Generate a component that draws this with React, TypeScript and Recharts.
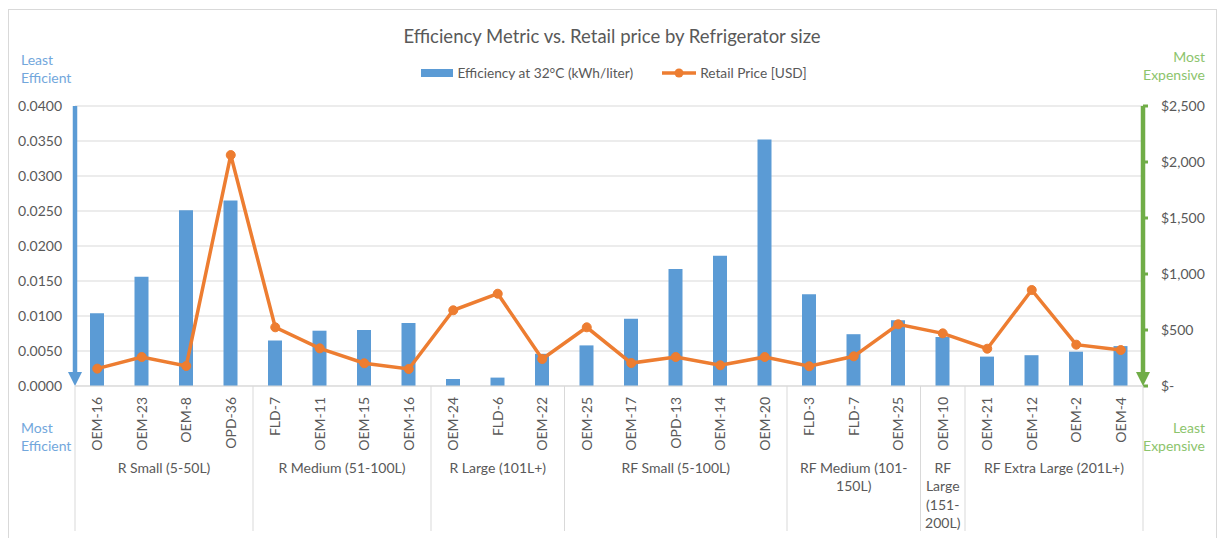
import React from 'react';
import { ComposedChart, Bar, Line, XAxis, YAxis, CartesianGrid, ReferenceLine } from 'recharts';

const categories = ['OEM-16', 'OEM-23', 'OEM-8', 'OPD-36', 'FLD-7', 'OEM-11', 'OEM-15', 'OEM-16', 'OEM-24', 'FLD-6', 'OEM-22', 'OEM-25', 'OEM-17', 'OPD-13', 'OEM-14', 'OEM-20', 'FLD-3', 'FLD-7', 'OEM-25', 'OEM-10', 'OEM-21', 'OEM-12', 'OEM-2', 'OEM-4'];
const efficiency = [0.0104, 0.0156, 0.0251, 0.0265, 0.0065, 0.0079, 0.0080, 0.0090, 0.0010, 0.0012, 0.0046, 0.0058, 0.0096, 0.0167, 0.0186, 0.0352, 0.0131, 0.0074, 0.0094, 0.0070, 0.0042, 0.0044, 0.0049, 0.0057];
const retailPrice = [155, 259, 179, 2062, 524, 336, 203, 152, 676, 824, 241, 524, 205, 259, 185, 259, 176, 265, 551, 470, 333, 857, 369, 321];
const groupLabels = [
  ['R Small (5-50L)'],
  ['R Medium (51-100L)'],
  ['R Large (101L+)'],
  ['RF Small (5-100L)'],
  ['RF Medium (101-', '150L)'],
  ['RF', 'Large', '(151-', '200L)'],
  ['RF Extra Large (201L+)'],
];
const groupSizes = [4, 4, 3, 5, 3, 1, 4];
const leftTicks = [0, 0.005, 0.01, 0.015, 0.02, 0.025, 0.03, 0.035, 0.04];
const rightTicks = [0, 500, 1000, 1500, 2000, 2500];

const data = categories.map((name, i) => ({ name, efficiency: efficiency[i], price: retailPrice[i] }));

const boundaries = groupSizes.reduce((acc: number[], s) => [...acc, acc[acc.length - 1] + s], [0]);
const centers = groupSizes.map((s, i) => boundaries[i] + s / 2);
const groupTicks = [...boundaries, ...centers].sort((a, b) => a - b);

const FONT = "Lato, 'Open Sans', sans-serif";
const TEXT = '#595959';
const GRID = '#D9D9D9';
const BLUE = '#5B9BD5';
const ORANGE = '#ED7D31';
const GREEN = '#70AD47';
const BLUE_TXT = '#72A7DC';
const GREEN_TXT = '#8CC46C';

const CatTick = (props: any) => {
  const { x, y, payload } = props;
  const ty = y + 11;
  return (
    <text x={x} y={ty} transform={`rotate(-90 ${x} ${ty})`} textAnchor="end" dy="0.35em" fill={TEXT} fontSize={14} fontFamily={FONT}>
      {payload.value}
    </text>
  );
};

const GroupTick = (props: any) => {
  const { x, y, payload } = props;
  const v = payload.value;
  if (boundaries.indexOf(v) >= 0) {
    return <line x1={x} x2={x} y1={y - 60} y2={y + 85} stroke={GRID} strokeWidth={1} />;
  }
  const gi = centers.indexOf(v);
  const lines = groupLabels[gi] || [];
  return (
    <text x={x} y={y + 27} textAnchor="middle" fill={TEXT} fontSize={14} fontFamily={FONT}>
      {lines.map((l, k) => (
        <tspan key={k} x={x} dy={k === 0 ? 0 : 18.3}>{l}</tspan>
      ))}
    </text>
  );
};

const arrowShape = (color: string) => (props: any) => {
  const { x1, y1, y2 } = props;
  const top = Math.min(y1, y2);
  const bottom = Math.max(y1, y2);
  const x = x1;
  return (
    <g>
      <line x1={x} x2={x} y1={top} y2={bottom - 12} stroke={color} strokeWidth={4.5} />
      <polygon points={`${x - 7},${bottom - 14} ${x + 7},${bottom - 14} ${x},${bottom}`} fill={color} />
    </g>
  );
};

const sideText: React.CSSProperties = { position: 'absolute', fontFamily: FONT, fontSize: 14, lineHeight: '18px' };

export default function App() {
  return (
    <div style={{ position: 'absolute', left: 0, top: 0, width: 1219, height: 538, overflow: 'hidden', background: '#fff' }}>
      <div style={{ position: 'absolute', left: 8, top: 9, width: 1209, height: 560, border: `1px solid ${GRID}`, boxSizing: 'border-box' }} />
      <div style={{ position: 'absolute', left: 8, width: 1208, top: 24, textAlign: 'center', fontFamily: FONT, fontSize: 18.5, color: TEXT, lineHeight: '24px' }}>
        Efficiency Metric vs. Retail price by Refrigerator size
      </div>
      <div style={{ position: 'absolute', left: 10, width: 1208, top: 64, display: 'flex', justifyContent: 'center', alignItems: 'center', fontFamily: FONT, fontSize: 13.7, color: TEXT, lineHeight: '18px' }}>
        <div style={{ width: 32, height: 8, background: BLUE, marginRight: 4 }} />
        <span>Efficiency at 32°C (kWh/liter)</span>
        <svg width={34} height={12} style={{ marginLeft: 29, marginRight: 4 }}>
          <line x1={0} x2={34} y1={6} y2={6} stroke={ORANGE} strokeWidth={3.5} />
          <circle cx={17} cy={6} r={4.5} fill={ORANGE} />
        </svg>
        <span>Retail Price [USD]</span>
      </div>
      <div style={{ ...sideText, left: 21, top: 51, color: BLUE_TXT }}>Least<br />Efficient</div>
      <div style={{ ...sideText, left: 21, top: 419, color: BLUE_TXT }}>Most<br />Efficient</div>
      <div style={{ ...sideText, right: 14, top: 48, color: GREEN_TXT, textAlign: 'right' }}>Most<br />Expensive</div>
      <div style={{ ...sideText, right: 14, top: 419, color: GREEN_TXT, textAlign: 'right' }}>Least<br />Expensive</div>
      <div style={{ position: 'absolute', left: 0, top: 0 }}>
        <ComposedChart width={1219} height={538} data={data} margin={{ top: 106, right: 16, bottom: 0, left: 15 }}>
          <CartesianGrid yAxisId="left" vertical={false} stroke={GRID} strokeWidth={1} />
          <XAxis dataKey="name" height={60} axisLine={{ stroke: GRID }} tickLine={false} tickSize={0} tickMargin={0} interval={0} tick={<CatTick />} />
          <XAxis xAxisId="grp" type="number" dataKey="idx" domain={[0, 24]} allowDataOverflow ticks={groupTicks} interval={0} height={92} axisLine={false} tickLine={false} tickSize={0} tickMargin={0} tick={<GroupTick />} />
          <YAxis yAxisId="left" domain={[0, 0.04]} ticks={leftTicks} allowDataOverflow width={60} axisLine={false} tickLine={false} tickSize={0} tickMargin={13} tickFormatter={(v: number) => v.toFixed(4)} tick={{ fill: TEXT, fontSize: 14, fontFamily: FONT }} />
          <YAxis yAxisId="right" orientation="right" domain={[0, 2500]} ticks={rightTicks} allowDataOverflow width={60} axisLine={false} tickLine={{ stroke: GREEN, strokeWidth: 3 }} tickSize={5} tickMargin={13} tickFormatter={(v: number) => (v === 0 ? '$-' : '$' + v.toLocaleString('en-US'))} tick={{ fill: TEXT, fontSize: 14, fontFamily: FONT }} />
          <Bar yAxisId="left" dataKey="efficiency" fill={BLUE} barSize={14} isAnimationActive={false} />
          <Line yAxisId="right" dataKey="price" stroke={ORANGE} strokeWidth={3.5} dot={{ r: 4.5, fill: ORANGE, stroke: ORANGE, strokeWidth: 1 }} activeDot={false} isAnimationActive={false} />
          <ReferenceLine xAxisId="grp" yAxisId="left" x={0} shape={arrowShape(BLUE)} />
          <ReferenceLine xAxisId="grp" yAxisId="left" x={24} shape={arrowShape(GREEN)} />
        </ComposedChart>
      </div>
    </div>
  );
}
